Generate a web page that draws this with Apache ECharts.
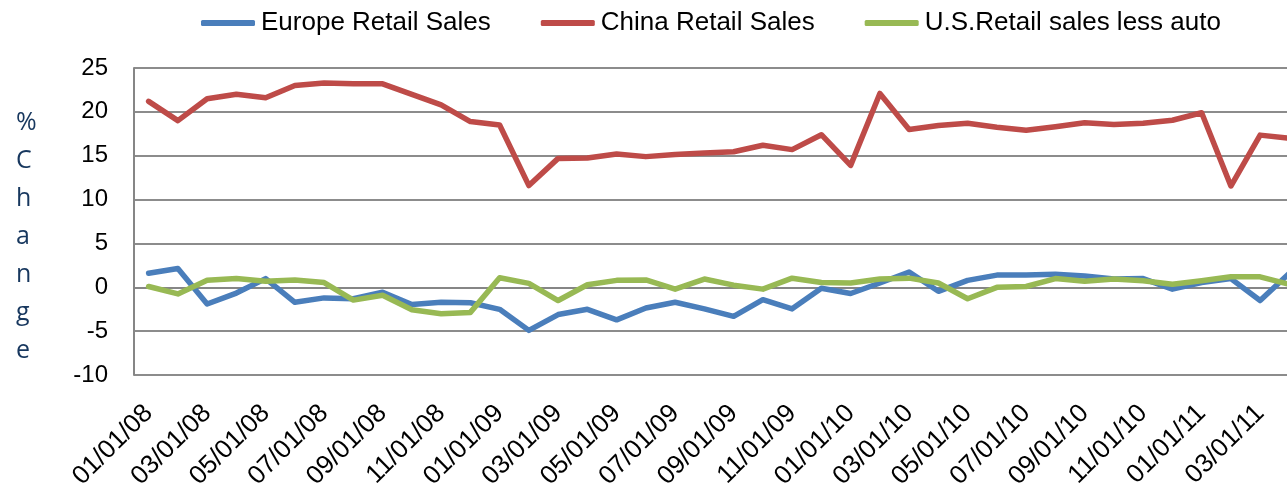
<!DOCTYPE html>
<html>
<head>
<meta charset="utf-8">
<script src="https://cdn.jsdelivr.net/npm/echarts@6/dist/echarts.min.js"></script>
<style>
  html, body { margin: 0; padding: 0; background: #ffffff; overflow: hidden; width: 1287px; height: 492px; }
  /* the plot runs a little past the right edge of the page */
  #chart { width: 1304px; height: 492px; }
</style>
</head>
<body>
<div id="chart"></div>
<script>
// Monthly dates, Jan 2008 – Apr 2011
const months = [
  '01/01/08','02/01/08','03/01/08','04/01/08','05/01/08','06/01/08','07/01/08','08/01/08','09/01/08','10/01/08','11/01/08','12/01/08',
  '01/01/09','02/01/09','03/01/09','04/01/09','05/01/09','06/01/09','07/01/09','08/01/09','09/01/09','10/01/09','11/01/09','12/01/09',
  '01/01/10','02/01/10','03/01/10','04/01/10','05/01/10','06/01/10','07/01/10','08/01/10','09/01/10','10/01/10','11/01/10','12/01/10',
  '01/01/11','02/01/11','03/01/11','04/01/11'
];

// Year-over-year % change
const europeRetail = [
  1.6, 2.15, -1.9, -0.65, 1.0, -1.7, -1.2, -1.3, -0.55, -1.95, -1.7, -1.75,
  -2.5, -4.9, -3.1, -2.5, -3.7, -2.35, -1.7, -2.45, -3.3, -1.4, -2.45, -0.1,
  -0.7, 0.5, 1.75, -0.45, 0.8, 1.4, 1.4, 1.5, 1.3, 0.95, 1.0, -0.2,
  0.55, 1.0, -1.5, 1.6
];
const chinaRetail = [
  21.2, 19.0, 21.5, 22.0, 21.6, 23.0, 23.3, 23.2, 23.2, 22.0, 20.8, 18.9,
  18.5, 11.6, 14.7, 14.75, 15.2, 14.9, 15.15, 15.3, 15.45, 16.2, 15.7, 17.4,
  13.9, 22.1, 18.0, 18.45, 18.7, 18.25, 17.9, 18.3, 18.75, 18.55, 18.7, 19.05,
  19.9, 11.55, 17.35, 17.0
];
const usRetailLessAuto = [
  0.1, -0.75, 0.8, 1.0, 0.7, 0.85, 0.55, -1.45, -0.9, -2.55, -3.0, -2.85,
  1.1, 0.45, -1.5, 0.3, 0.8, 0.85, -0.2, 0.95, 0.25, -0.2, 1.05, 0.55,
  0.5, 0.95, 1.05, 0.5, -1.3, 0.0, 0.1, 1.0, 0.7, 0.95, 0.75, 0.35,
  0.75, 1.2, 1.2, 0.35
];

const seriesNames = ['Europe Retail Sales', 'China Retail Sales', 'U.S.Retail sales less auto'];
const seriesColors = ['#4a7ebb', '#be4b48', '#98b954'];
const yTitle = '%\nC\nh\na\nn\ng\ne';

const chart = echarts.init(document.getElementById('chart'), null, { renderer: 'canvas' });

function lineSeries(name, data, color) {
  return {
    name: name,
    type: 'line',
    data: data,
    symbol: 'none',
    smooth: false,
    lineStyle: { color: color, width: 5.5, cap: 'round', join: 'round' },
    itemStyle: { color: color },
    emphasis: { disabled: true },
    animation: false
  };
}

chart.setOption({
  animation: false,
  backgroundColor: '#ffffff',
  legend: {
    left: 196,
    top: 5,
    itemGap: 50,
    itemWidth: 54,
    itemHeight: 6,
    icon: 'roundRect',
    textStyle: { fontFamily: 'Liberation Sans', fontSize: 26, color: '#000000', padding: [0, 0, 0, 1] },
    data: seriesNames
  },
  graphic: [{
    type: 'text',
    left: 16,
    top: 104,
    style: {
      text: yTitle,
      font: '25px "Open Sans"',
      fill: '#17375e',
      lineHeight: 38,
      align: 'center'
    }
  }],
  grid: { left: 134, right: 0, top: 68, bottom: 116, containLabel: false },
  xAxis: {
    type: 'category',
    data: months,
    boundaryGap: true,
    axisLine: { show: true, lineStyle: { color: '#868686', width: 2 } },
    axisTick: { show: false },
    axisLabel: {
      interval: 1,
      rotate: 45,
      margin: 34,
      fontFamily: 'Liberation Sans',
      fontSize: 26,
      color: '#000000'
    },
    splitLine: { show: false }
  },
  yAxis: {
    type: 'value',
    min: -10,
    max: 25,
    interval: 5,
    axisLine: { show: true, lineStyle: { color: '#868686', width: 2 } },
    axisTick: { show: false },
    axisLabel: {
      margin: 26,
      fontFamily: 'Liberation Sans',
      fontSize: 24,
      color: '#000000'
    },
    splitLine: { show: true, lineStyle: { color: '#8c8c8c', width: 2 } }
  },
  series: [
    lineSeries(seriesNames[0], europeRetail, seriesColors[0]),
    lineSeries(seriesNames[1], chinaRetail, seriesColors[1]),
    lineSeries(seriesNames[2], usRetailLessAuto, seriesColors[2])
  ]
});
</script>
</body>
</html>
